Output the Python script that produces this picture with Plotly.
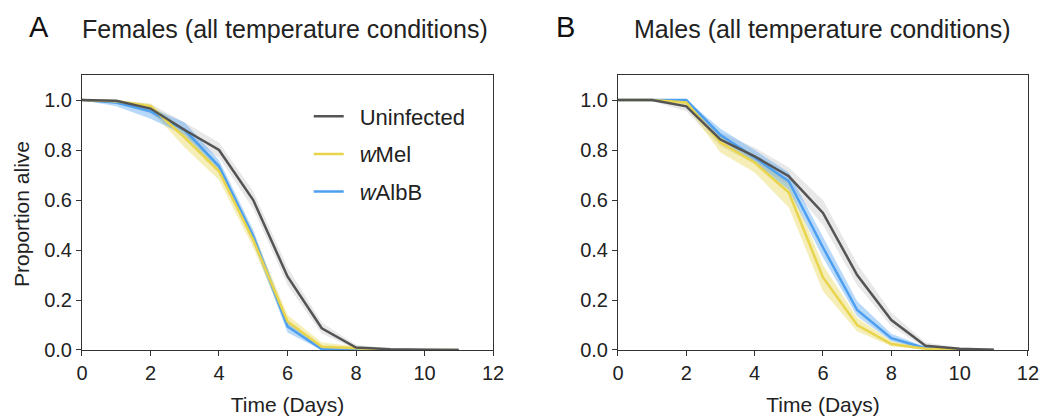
import plotly.graph_objects as go

days = [0, 1, 2, 3, 4, 5, 6, 7, 8, 9, 10, 11]

# Females
f_unf = [1.0, 0.997, 0.966, 0.88, 0.80, 0.60, 0.294, 0.087, 0.01, 0.003, 0.001, 0.0]
f_unf_lo = [1.0, 0.99, 0.945, 0.85, 0.77, 0.565, 0.26, 0.065, 0.003, 0.0, 0.0, 0.0]
f_unf_hi = [1.0, 1.0, 0.985, 0.91, 0.83, 0.635, 0.33, 0.11, 0.02, 0.007, 0.003, 0.001]
f_mel = [1.0, 0.995, 0.975, 0.85, 0.715, 0.44, 0.114, 0.013, 0.007, 0.0, 0.0, 0.0]
f_mel_lo = [1.0, 0.985, 0.96, 0.81, 0.68, 0.41, 0.09, 0.003, 0.0, 0.0, 0.0, 0.0]
f_mel_hi = [1.0, 1.0, 0.985, 0.88, 0.745, 0.47, 0.14, 0.03, 0.015, 0.003, 0.0, 0.0]
f_alb = [1.0, 0.99, 0.955, 0.88, 0.735, 0.455, 0.094, 0.003, 0.0, 0.0, 0.0, 0.0]
f_alb_lo = [1.0, 0.975, 0.925, 0.86, 0.71, 0.43, 0.07, 0.0, 0.0, 0.0, 0.0, 0.0]
f_alb_hi = [1.0, 1.0, 0.97, 0.91, 0.76, 0.48, 0.115, 0.01, 0.003, 0.0, 0.0, 0.0]

# Males
m_unf = [1.0, 1.0, 0.975, 0.842, 0.775, 0.695, 0.548, 0.30, 0.12, 0.017, 0.005, 0.001]
m_unf_lo = [1.0, 0.995, 0.955, 0.815, 0.745, 0.66, 0.50, 0.26, 0.095, 0.007, 0.0, 0.0]
m_unf_hi = [1.0, 1.0, 0.99, 0.87, 0.81, 0.73, 0.60, 0.345, 0.15, 0.03, 0.01, 0.004]
m_mel = [1.0, 1.0, 0.99, 0.83, 0.75, 0.63, 0.29, 0.10, 0.024, 0.005, 0.001, 0.0]
m_mel_lo = [1.0, 1.0, 0.975, 0.79, 0.71, 0.57, 0.235, 0.075, 0.015, 0.001, 0.0, 0.0]
m_mel_hi = [1.0, 1.0, 1.0, 0.86, 0.78, 0.67, 0.34, 0.13, 0.035, 0.01, 0.003, 0.001]
m_alb = [1.0, 1.0, 1.0, 0.86, 0.77, 0.675, 0.41, 0.16, 0.047, 0.007, 0.001, 0.0]
m_alb_lo = [1.0, 1.0, 0.99, 0.84, 0.75, 0.64, 0.37, 0.135, 0.035, 0.003, 0.0, 0.0]
m_alb_hi = [1.0, 1.0, 1.0, 0.885, 0.80, 0.71, 0.45, 0.195, 0.065, 0.012, 0.003, 0.001]

names = ["Uninfected", "<i>w</i>Mel", "<i>w</i>AlbB"]
line_colors = ["#545454", "#e8d44d", "#4d9ff0"]
band_colors = ["rgba(190,190,190,0.35)", "rgba(232,212,77,0.40)", "rgba(77,159,240,0.40)"]

FONT = "Arial, Liberation Sans, sans-serif"

fig = go.Figure()

panels = [
    ("x", "y", [(f_unf, f_unf_lo, f_unf_hi), (f_mel, f_mel_lo, f_mel_hi), (f_alb, f_alb_lo, f_alb_hi)], True),
    ("x2", "y2", [(m_unf, m_unf_lo, m_unf_hi), (m_mel, m_mel_lo, m_mel_hi), (m_alb, m_alb_lo, m_alb_hi)], False),
]

for xa, ya, series, show in panels:
    for i, (mid, lo, hi) in enumerate(series):
        fig.add_trace(go.Scatter(x=days + days[::-1], y=hi + lo[::-1], fill="toself",
                                 fillcolor=band_colors[i], line=dict(width=0),
                                 mode="lines", hoverinfo="skip", showlegend=False,
                                 xaxis=xa, yaxis=ya))
    for i in [2, 1, 0]:
        mid = series[i][0]
        fig.add_trace(go.Scatter(x=days, y=mid, mode="lines",
                                 line=dict(color=line_colors[i], width=2.5),
                                 name="\u2002" + names[i], legendgroup=names[i], legendrank=i + 1,
                                 showlegend=show, xaxis=xa, yaxis=ya))

axis_common = dict(showgrid=False, zeroline=False, showline=True, linecolor="#333333",
                   linewidth=1, mirror=True, ticks="outside", ticklen=5, tickcolor="#333333",
                   automargin=False,
                   tickfont=dict(family=FONT, size=20, color="#222222"))

ydom = [0.1607, 0.820]
xtitle_font = dict(family=FONT, size=21, color="#222222")
fig.update_layout(
    width=1043, height=417,
    margin=dict(l=0, r=0, t=0, b=0),
    paper_bgcolor="white", plot_bgcolor="white",
    font=dict(family=FONT, color="#222222"),
    xaxis=dict(domain=[0.0786, 0.4727], range=[0, 12], tickvals=[0, 2, 4, 6, 8, 10, 12],
               anchor="y", title=dict(text="Time (Days)", font=xtitle_font, standoff=14), **axis_common),
    yaxis=dict(domain=ydom, range=[0, 1.1], tickvals=[0, 0.2, 0.4, 0.6, 0.8, 1.0], tickformat=".1f",
               anchor="x", **axis_common),
    xaxis2=dict(domain=[0.5925, 0.9856], range=[0, 12], tickvals=[0, 2, 4, 6, 8, 10, 12],
                anchor="y2", title=dict(text="Time (Days)", font=xtitle_font, standoff=14), **axis_common),
    yaxis2=dict(domain=ydom, range=[0, 1.1], tickvals=[0, 0.2, 0.4, 0.6, 0.8, 1.0], tickformat=".1f",
                anchor="x2", **axis_common),
    legend=dict(x=0.296, y=0.771, xanchor="left", yanchor="top", bgcolor="rgba(0,0,0,0)",
                font=dict(family=FONT, size=22, color="#222222"), itemwidth=30,
                tracegroupgap=6, traceorder="grouped"),
    annotations=[
        dict(text="Proportion alive", x=0.0211, y=0.487, xref="paper", yref="paper", showarrow=False,
             textangle=-90, xanchor="center", yanchor="middle",
             font=dict(family=FONT, size=21, color="#222222")),
        dict(text="A", x=0.037, y=0.935, xref="paper", yref="paper", showarrow=False,
             xanchor="center", yanchor="middle", font=dict(family=FONT, size=29, color="#111111")),
        dict(text="Females (all temperature conditions)", x=0.0765, y=0.93, xref="paper", yref="paper",
             showarrow=False, xanchor="left", yanchor="middle", font=dict(family=FONT, size=25, color="#222222")),
        dict(text="B", x=0.542, y=0.935, xref="paper", yref="paper", showarrow=False,
             xanchor="center", yanchor="middle", font=dict(family=FONT, size=29, color="#111111")),
        dict(text="Males (all temperature conditions)", x=0.606, y=0.93, xref="paper", yref="paper",
             showarrow=False, xanchor="left", yanchor="middle", font=dict(family=FONT, size=25, color="#222222")),
    ],
)

fig.write_html("out.html", config={"displayModeBar": False},
               post_script="document.body.style.margin='0';")
